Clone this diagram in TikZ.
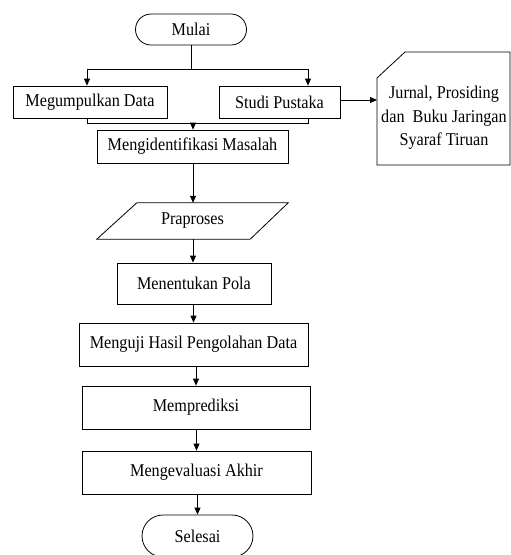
\documentclass[tikz,border=0pt]{standalone}
\usepackage{fontspec}
\setmainfont[FakeStretch=0.9]{Liberation Serif}
\usepackage{tikz}
\usetikzlibrary{positioning,calc}
\usetikzlibrary{shapes.geometric,shapes.misc}
\usetikzlibrary{arrows.meta}

\begin{document}
\begin{tikzpicture}[x=1pt,y=-1pt,
    kotak/.style={draw,line width=0.8pt,rectangle,inner sep=0pt,font=\fontsize{18}{23.5}\selectfont},
    terminal/.style={draw,line width=0.8pt,rounded rectangle,inner sep=0pt,font=\fontsize{18}{23.5}\selectfont},
    garis/.style={line width=0.8pt,black},
    panah/.style={line width=0.8pt,black,-{Triangle[length=7pt,width=6pt]}}]
    \useasboundingbox (0,0) rectangle (511,555);
    % 开始与两个分支
    \node[terminal,minimum width=111pt,minimum height=31pt] (mulai) at (191,29.5) {Mulai};
    \node[kotak,minimum width=154pt,minimum height=32pt] (kumpul) at (90,102) {Megumpulkan Data};
    \node[kotak,minimum width=121pt,minimum height=32pt] (studi) at (279.5,102) {Studi Pustaka};
    % 文献节点（切角）
    \node[inner sep=0pt,align=center,font=\fontsize{18}{23.5}\selectfont] (jurnal) at (444,118)
          {Jurnal, Prosiding\\dan\ \ Buku Jaringan\\Syaraf Tiruan};
    \coordinate (jNW) at (377,52);
    \coordinate (jSE) at (510,165);
    \draw[garis] ([yshift=-26pt]jNW) -- ([xshift=28pt]jNW) -- (jNW -| jSE) -- (jSE) -- (jSE -| jNW) -- cycle;
    % 主流程
    \node[kotak,minimum width=191pt,minimum height=33pt] (identifikasi) at (192.5,146.5) {Mengidentifikasi Masalah};
    \node[inner sep=0pt,minimum width=191pt,minimum height=36pt,
          font=\fontsize{18}{23.5}\selectfont] (praproses) at (192.5,221) {Praproses};
    \draw[garis] ([xshift=40pt]praproses.north west) -- (praproses.north east)
        -- ([xshift=-38pt]praproses.south east) -- (praproses.south west) -- cycle;
    \node[kotak,minimum width=154pt,minimum height=41pt] (pola) at (194,283.5) {Menentukan Pola};
    \node[kotak,minimum width=229pt,minimum height=43pt] (uji) at (193.5,344.5) {Menguji Hasil Pengolahan Data};
    \node[kotak,minimum width=228pt,minimum height=43pt] (prediksi) at (196,407.5) {Memprediksi};
    \node[kotak,minimum width=229pt,minimum height=43pt] (evaluasi) at (196.5,472.5) {Mengevaluasi Akhir};
    \node[terminal,minimum width=111pt,minimum height=42pt] (selesai) at (197.5,536) {Selesai};
    % 连线
    \coordinate (cabang) at (191,69);
    \coordinate (kiriA) at (87,69);
    \coordinate (kananA) at (308,69);
    \coordinate (kiriB) at (87,123);
    \coordinate (kananB) at (308,123);
    \coordinate (gabung) at (193,123);
    \draw[garis] (mulai.south) -- (cabang);
    \draw[garis] (kiriA) -- (kananA);
    \draw[panah] (kiriA) -- (kiriA |- kumpul.north);
    \draw[panah] (kananA) -- (kananA |- studi.north);
    \draw[garis] (kiriB |- kumpul.south) -- (kiriB) -- (kananB) -- (kananB |- studi.south);
    \draw[panah] (gabung) -- (gabung |- identifikasi.north);
    \draw[panah] (studi.east |- 0,100) -- (jNW |- 0,100);
    \draw[panah] (identifikasi.south -| 193,0) -- (praproses.north -| 193,0);
    \draw[panah] (praproses.south -| 193,0) -- (pola.north -| 193,0);
    \draw[panah] (pola.south -| uji.north) -- (uji.north);
    \draw[panah] (uji.south -| prediksi.north) -- (prediksi.north);
    \draw[panah] (prediksi.south -| evaluasi.north) -- (evaluasi.north);
    \draw[panah] (evaluasi.south -| selesai.north) -- (selesai.north);
\end{tikzpicture}
\end{document}
